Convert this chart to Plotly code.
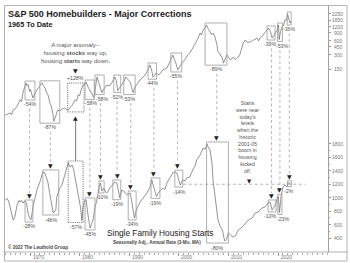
import numpy as np
import plotly.graph_objects as go

# ---------------- data ----------------
# S&P 500 Homebuilders index (log scale, top panel)
hb_year = [1965.0, 1965.5, 1966.0, 1966.3, 1966.6, 1967.0, 1967.4, 1968.0, 1968.3, 1968.6,
           1969.0, 1969.2, 1969.4, 1969.6, 1969.9, 1970.1, 1970.4, 1970.6, 1971.0, 1971.4,
           1971.8, 1972.1, 1972.4, 1972.7, 1973.0, 1973.4, 1973.7, 1974.0, 1974.3, 1974.6,
           1974.8, 1975.0, 1975.2, 1975.6, 1976.0, 1976.5, 1977.0, 1977.3, 1977.7, 1978.1,
           1978.5, 1979.1, 1979.4, 1979.7, 1980.0, 1980.3, 1980.7, 1981.0, 1981.3, 1981.7,
           1982.0, 1982.5, 1982.9, 1983.2, 1983.5, 1983.9, 1984.2, 1984.5, 1984.9, 1985.2,
           1985.5, 1986.0, 1986.5, 1987.1, 1987.4, 1987.7, 1988.1, 1988.5, 1988.9, 1989.3,
           1989.7, 1990.2, 1990.5, 1990.8, 1991.2, 1991.5, 1991.8, 1992.2, 1992.6, 1993.2,
           1993.7, 1994.0, 1994.2, 1994.6, 1994.8, 1995.1, 1995.4, 1996.0, 1996.4, 1996.8,
           1997.2, 1997.6, 1998.2, 1998.6, 1998.8, 1999.1, 1999.4, 1999.8, 2000.2, 2000.6,
           2001.2, 2001.8, 2002.3, 2002.9, 2003.3, 2003.7, 2004.3, 2004.6, 2004.9, 2005.3,
           2005.6, 2005.9, 2006.3, 2006.6, 2006.9, 2007.3, 2007.7, 2007.9, 2008.2, 2008.5,
           2008.8, 2009.0, 2009.4, 2009.7, 2010.0, 2010.4, 2011.0, 2011.4, 2011.8, 2012.3,
           2012.7, 2013.0, 2013.4, 2013.8, 2014.4, 2015.0, 2015.4, 2015.8, 2016.1, 2016.4,
           2017.0, 2017.5, 2018.1, 2018.5, 2018.8, 2019.1, 2019.4, 2019.9, 2020.1, 2020.25,
           2020.5, 2020.8, 2021.1, 2021.4, 2021.7, 2021.95, 2022.2, 2022.45, 2022.6]
hb_value = [15.6, 16.5, 17.2, 15.8, 20, 21, 24, 33, 30, 48,
            62, 75, 66, 70, 50, 55, 42, 36, 46, 53,
            62, 68, 76, 66, 59, 46, 40, 28, 24, 17,
            11.5, 13, 15.6, 20, 19, 21, 22, 20.5, 20, 22,
            25, 33, 31, 42, 40, 53, 68, 70, 79, 62,
            55, 42, 37, 60, 101, 75, 60, 47, 56, 62,
            68, 65, 76, 101, 85, 52, 60, 68, 80, 101,
            90, 79, 60, 47, 62, 70, 75, 88, 96, 112,
            140, 170, 183, 130, 100, 110, 123, 112, 130, 143,
            150, 157, 212, 280, 299, 240, 201, 143, 170, 201,
            234, 299, 340, 422, 520, 625, 883, 800, 1024, 1150,
            1310, 1100, 927, 820, 883, 725, 489, 347, 330, 280,
            250, 200, 258, 300, 271, 234, 271, 240, 258, 299,
            420, 540, 625, 560, 566, 625, 660, 690, 600, 690,
            800, 950, 1130, 930, 690, 760, 883, 1050, 1310, 640,
            950, 1186, 1250, 1675, 1650, 2249, 1700, 1440, 1600]

# Single family housing starts, thousands, SAAR, 3-mo. MA (bottom panel)
hs_year = [1965.0, 1965.4, 1965.8, 1966.2, 1966.6, 1966.9, 1967.4, 1967.8, 1968.0, 1968.3,
           1968.6, 1968.9, 1969.2, 1969.4, 1969.6, 1969.9, 1970.2, 1970.6, 1971.0, 1971.4,
           1972.0, 1972.3, 1972.6, 1973.0, 1973.3, 1973.6, 1974.0, 1974.4, 1974.7, 1975.0,
           1975.2, 1975.4, 1975.8, 1976.0, 1976.4, 1976.7, 1977.0, 1977.3, 1977.7, 1978.1,
           1978.5, 1978.8, 1979.1, 1979.5, 1979.9, 1980.2, 1980.45, 1980.7, 1981.0, 1981.3,
           1981.7, 1982.0, 1982.1, 1982.4, 1982.7, 1983.1, 1983.5, 1983.9, 1984.2, 1984.5,
           1984.9, 1985.2, 1985.5, 1986.1, 1986.7, 1987.1, 1987.5, 1987.8, 1988.1, 1988.5,
           1989.1, 1989.6, 1990.2, 1990.5, 1990.8, 1991.05, 1991.3, 1991.6, 1992.2, 1992.8,
           1993.2, 1993.6, 1994.2, 1994.55, 1995.0, 1995.5, 1996.0, 1996.8, 1997.2, 1997.6,
           1998.2, 1998.8, 1999.3, 1999.6, 2000.0, 2000.3, 2000.8, 2001.3, 2001.6, 2002.2,
           2002.8, 2003.3, 2003.6, 2004.3, 2004.9, 2005.3, 2005.7, 2005.9, 2006.3, 2006.7,
           2006.9, 2007.3, 2007.7, 2007.9, 2008.4, 2008.8, 2009.1, 2009.3, 2009.6, 2010.0,
           2010.4, 2010.8, 2011.4, 2012.0, 2012.8, 2013.4, 2014.0, 2014.8, 2015.4, 2016.0,
           2016.8, 2017.4, 2018.0, 2018.4, 2018.8, 2019.1, 2019.5, 2019.9, 2020.05, 2020.3,
           2020.6, 2021.0, 2021.4, 2021.8, 2022.0, 2022.3, 2022.6]
hs_value = [966, 990, 921, 800, 668, 700, 891, 960, 936, 960,
            921, 950, 936, 870, 772, 700, 668, 862, 1000, 1115,
            1234, 1300, 1383, 1368, 1300, 1234, 1050, 891, 772, 800,
            817, 1010, 1100, 1144, 1180, 1264, 1350, 1413, 1517, 1457,
            1487, 1420, 1308, 1115, 1010, 850, 660, 862, 960, 966,
            742, 600, 549, 600, 668, 850, 966, 1150, 1219, 1100,
            1144, 1090, 1070, 1144, 1189, 1234, 1219, 1100, 1000, 1115,
            1085, 1040, 1070, 950, 817, 698, 780, 847, 936, 996,
            1020, 1070, 1159, 1264, 1144, 1020, 1085, 1144, 1120, 1219,
            1293, 1368, 1380, 1368, 1260, 1189, 1264, 1250, 1293, 1308,
            1413, 1480, 1561, 1636, 1740, 1720, 1800, 1755, 1710, 1517,
            1264, 1010, 817, 668, 560, 519, 400, 355, 380, 474,
            450, 415, 430, 519, 564, 623, 668, 698, 772, 787,
            847, 862, 921, 936, 817, 850, 900, 1010, 1020, 780,
            1010, 1159, 1189, 1160, 1219, 1222, 1195]

# Corrections (start year, end year, label)
hb_start = [1969.0, 1972.0, 1977.6, 1981.1, 1983.1, 1986.9, 1988.9, 1993.8, 1998.4, 2005.3, 2017.8, 2019.9, 2021.85]
hb_end = [1971.0, 1976.0, 1980.9, 1982.95, 1984.95, 1988.3, 1991.2, 1995.5, 2000.6, 2009.7, 2019.4, 2020.9, 2022.65]
hb_label = ["-54%", "-87%", "+128%", "-58%", "-58%", "-52%", "-53%", "-44%", "-55%", "-89%", "-39%", "-53%", "-36%"]

hs_start = [1969.0, 1972.6, 1977.7, 1981.1, 1983.9, 1986.7, 1989.8, 1994.4, 1999.2, 2005.6, 2018.0, 2019.95, 2021.9]
hs_end = [1970.6, 1975.8, 1980.7, 1983.1, 1984.95, 1988.3, 1991.4, 1996.2, 2000.8, 2010.0, 2019.6, 2020.8, 2022.7]
hs_label = ["-28%", "-46%", "-57%", "-45%", "-10%", "-19%", "-34%", "-19%", "-14%", "-80%", "-13%", "-23%", "-2%"]
anomaly = 2  # the dotted pair: stocks up, starts down

top_ticks = [150, 300, 450, 600, 900, 1200, 1650, 2250]
bot_ticks = [400, 600, 800, 1000, 1200, 1400, 1600, 1800]
bot_minor = [500, 700, 900, 1100, 1300, 1500, 1700]
year_ticks = [1970, 1980, 1990, 2000, 2010, 2020]
ref_level = 1200
ref_span = [2000.9, 2025.5]

# ---------------- geometry ----------------
W, H = 350, 263
L, R, T, B = 5, 328, 6, 252
PW, PH = R - L, B - T
XR = [1964.96, 2030.08]
TOP_R = [-1.736, 3.523]
BOT_R = [191.5, 3854.0]

def fy_top(v):
    return (np.log10(v) - TOP_R[0]) / (TOP_R[1] - TOP_R[0])

def fy_bot(v):
    return (v - BOT_R[0]) / (BOT_R[1] - BOT_R[0])

def dpy(n):
    return n / PH

def px_x(x):
    return (x - L) / PW

def px_y(y):
    return (B - y) / PH

def extent(xs, ys, a, b):
    sel = [v for x, v in zip(xs, ys) if a <= x <= b]
    return min(sel), max(sel)

FONT = "Liberation Sans"
ARROWF = "DejaVu Sans"
GREY_TXT = "#555555"
BOX = "#9a9a9a"

fig = go.Figure()
fig.add_trace(go.Scatter(x=hb_year, y=hb_value, mode="lines", yaxis="y",
                         line=dict(color="#5a5a5a", width=0.65), hoverinfo="skip"))
fig.add_trace(go.Scatter(x=hs_year, y=hs_value, mode="lines", yaxis="y2",
                         line=dict(color="#5a5a5a", width=0.65), hoverinfo="skip"))

shapes, ann = [], []

top_nudge = {3: 1.5, 4: 2.0, 10: -1.0, 11: 2.5}
bot_nudge = {10: -2.0, 11: 3.0}

for i in range(len(hb_start)):
    tmn, tmx = extent(hb_year, hb_value, hb_start[i], hb_end[i])
    bmn, bmx = extent(hs_year, hs_value, hs_start[i], hs_end[i])
    ty0, ty1 = fy_top(tmn) - dpy(2), fy_top(tmx) + dpy(2)
    by0, by1 = fy_bot(bmn) - dpy(2), fy_bot(bmx) + dpy(2)
    dotted = (i == anomaly)
    bl = dict(color="#555555", width=0.9, dash="1px,1.2px") if dotted else dict(color=BOX, width=0.8)
    shapes.append(dict(type="rect", xref="x", yref="paper", x0=hb_start[i], x1=hb_end[i],
                       y0=ty0, y1=ty1, line=bl, layer="above"))
    shapes.append(dict(type="rect", xref="x", yref="paper", x0=hs_start[i], x1=hs_end[i],
                       y0=by0, y1=by1, line=bl, layer="above"))
    tcx = (hb_start[i] + hb_end[i]) / 2
    bcx = (hs_start[i] + hs_end[i]) / 2
    lf = dict(family=FONT, size=5.2, color=GREY_TXT)
    if dotted:
        ann.append(dict(x=tcx, y=ty1 + dpy(5), xref="x", yref="paper", text=hb_label[i],
                        showarrow=False, font=lf, yanchor="middle"))
    else:
        ann.append(dict(x=tcx, y=ty0 - dpy(4), xref="x", yref="paper", text=hb_label[i],
                        showarrow=False, font=lf, yanchor="middle", xshift=top_nudge.get(i, 0)))
    ann.append(dict(x=bcx, y=by0 - dpy(4.5), xref="x", yref="paper", text=hs_label[i],
                    showarrow=False, font=lf, yanchor="middle", xshift=bot_nudge.get(i, 0)))
    cx = (tcx + bcx) / 2
    if dotted:
        # solid upward link from starts box to stocks box
        shapes.append(dict(type="line", xref="x", yref="paper", x0=bcx, x1=bcx,
                           y0=by1, y1=ty0 - dpy(8), line=dict(color="#555555", width=0.8)))
        ann.append(dict(x=bcx, y=ty0 - dpy(6), xref="x", yref="paper", text="▲",
                        showarrow=False, font=dict(family=ARROWF, size=6, color="#222222"),
                        yanchor="middle"))
        ann.append(dict(x=tcx, y=ty1 + dpy(12.5), xref="x", yref="paper", text="▼",
                        showarrow=False, font=dict(family=ARROWF, size=6, color="#222222"),
                        yanchor="middle"))
        ann.append(dict(x=tcx, y=ty1 + dpy(17), xref="x", yref="paper",
                        text="A major anomaly--<br>housing <b>stocks</b> way up,<br>housing <b>starts</b> way down.",
                        showarrow=False, font=dict(family=FONT, size=6, color=GREY_TXT),
                        yanchor="bottom", align="center"))
    else:
        shapes.append(dict(type="line", xref="x", yref="paper", x0=cx, x1=cx,
                           y0=ty0 - dpy(8.5), y1=by1 + dpy(7),
                           line=dict(color=BOX, width=0.7, dash="3px,2.5px")))
        ann.append(dict(x=cx, y=by1 + dpy(4.5), xref="x", yref="paper", text="▼",
                        showarrow=False, font=dict(family=ARROWF, size=6, color="#222222"),
                        yanchor="middle"))

# reference line at today's starts level
shapes.append(dict(type="line", xref="x", yref="paper", x0=ref_span[0], x1=ref_span[1],
                   y0=fy_bot(ref_level), y1=fy_bot(ref_level),
                   line=dict(color=BOX, width=0.7, dash="3px,2.5px")))
ann.append(dict(x=2014.2, y=fy_bot(ref_level) + dpy(3.5), xref="x", yref="paper", text="▼",
                showarrow=False, font=dict(family=ARROWF, size=5.5, color="#222222"), yanchor="middle"))
ann.append(dict(x=2013.8, y=px_y(136.5), xref="x", yref="paper",
                text="Starts<br>were near<br>today's<br>levels<br>when the<br>historic<br>2001-05<br>boom in<br>housing<br>kicked<br>off.",
                showarrow=False, font=dict(family=FONT, size=5.2, color=GREY_TXT),
                yanchor="middle", align="center"))

# right-hand axis labels (right aligned)
for v in top_ticks:
    ann.append(dict(x=px_x(344.5), y=fy_top(v), xref="paper", yref="paper", text=str(v),
                    showarrow=False, xanchor="right", yanchor="middle",
                    font=dict(family=FONT, size=5, color="#777777")))
for v in bot_ticks:
    ann.append(dict(x=px_x(344.5), y=fy_bot(v), xref="paper", yref="paper", text=str(v),
                    showarrow=False, xanchor="right", yanchor="middle",
                    font=dict(family=FONT, size=5, color="#777777")))

# year labels, placed just right of their decade tick
for yv in year_ticks:
    ann.append(dict(x=yv, y=px_y(256.5), xref="x", yref="paper", text=str(yv),
                    showarrow=False, xanchor="left", yanchor="middle", xshift=0.5,
                    font=dict(family=FONT, size=5, color="#777777")))

# titles
ann.append(dict(x=px_x(5.5), y=px_y(13.5), xref="paper", yref="paper",
                text="<b>S&P 500 Homebuilders - Major Corrections</b>", showarrow=False,
                xanchor="left", yanchor="middle", font=dict(family=FONT, size=9, color="#222222")))
ann.append(dict(x=px_x(5.5), y=px_y(24.5), xref="paper", yref="paper",
                text="<b>1965 To Date</b>", showarrow=False,
                xanchor="left", yanchor="middle", font=dict(family=FONT, size=7.3, color="#222222")))
ann.append(dict(x=px_x(160), y=px_y(233), xref="paper", yref="paper",
                text="Single Family Housing Starts", showarrow=False,
                xanchor="center", yanchor="middle", font=dict(family=FONT, size=8.3, color="#222222")))
ann.append(dict(x=px_x(156.5), y=px_y(242), xref="paper", yref="paper",
                text="<b>Seasonally Adj., Annual Rate (3-Mo. MA)</b>", showarrow=False,
                xanchor="center", yanchor="middle", font=dict(family=FONT, size=4.6, color="#444444")))
ann.append(dict(x=px_x(5.5), y=px_y(247), xref="paper", yref="paper",
                text="<b>© 2022 The Leuthold Group</b>", showarrow=False,
                xanchor="left", yanchor="middle", font=dict(family=FONT, size=4.6, color="#444444")))

# frame and extended axis line
shapes.append(dict(type="rect", xref="paper", yref="paper", x0=px_x(4.5), x1=px_x(347),
                   y0=px_y(261), y1=px_y(5.5), line=dict(color="#a0a0a0", width=0.8)))
shapes.append(dict(type="line", xref="paper", yref="paper", x0=px_x(4.5), x1=px_x(347),
                   y0=0, y1=0, line=dict(color="#a0a0a0", width=0.8)))

fig.update_layout(
    width=W, height=H,
    margin=dict(l=L, r=W - R, t=T, b=H - B, pad=0),
    paper_bgcolor="white", plot_bgcolor="white",
    showlegend=False,
    shapes=shapes, annotations=ann,
    xaxis=dict(range=XR, tickvals=year_ticks, showticklabels=False,
               ticks="outside", ticklen=3, tickwidth=0.7, tickcolor="#999999",
               showline=False, showgrid=False, zeroline=False,
               minor=dict(dtick=1, tick0=1965, ticks="outside", ticklen=1.5,
                          tickwidth=0.6, tickcolor="#aaaaaa", showgrid=False)),
    yaxis=dict(type="log", range=TOP_R, side="right", tickvals=top_ticks,
               ticks="outside", ticklen=2.5, tickwidth=0.7, tickcolor="#999999",
               showticklabels=False, showline=True, linecolor="#a0a0a0", linewidth=0.8,
               showgrid=False, zeroline=False),
    yaxis2=dict(range=BOT_R, overlaying="y", side="right", tickvals=bot_ticks,
                ticks="outside", ticklen=2.5, tickwidth=0.7, tickcolor="#999999",
                showticklabels=False, showline=True, linecolor="#a0a0a0", linewidth=0.8,
                showgrid=False, zeroline=False,
                minor=dict(tickvals=bot_minor, ticks="outside", ticklen=1.5,
                           tickwidth=0.6, tickcolor="#aaaaaa", showgrid=False)),
)

fig.write_html("out.html")
